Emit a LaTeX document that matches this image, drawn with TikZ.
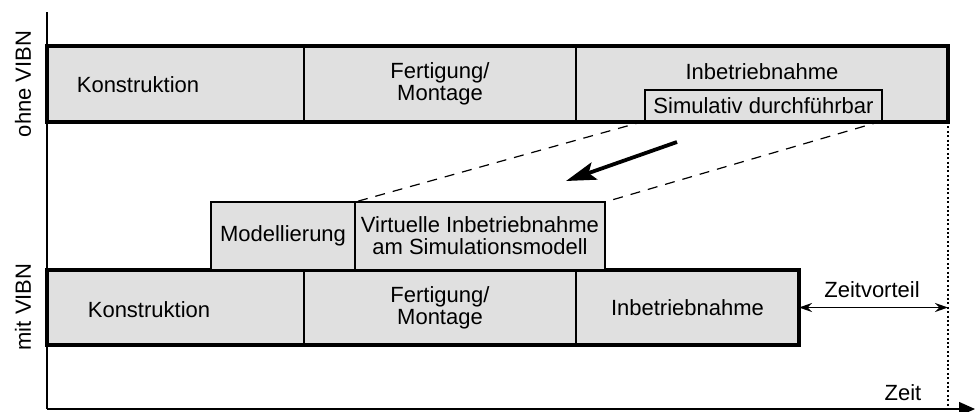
\documentclass[tikz,border=0pt]{standalone}
\usepackage{fontspec}
\setmainfont{Liberation Sans}
\usetikzlibrary{arrows.meta, positioning}
\definecolor{barfill}{HTML}{E0E0E0}
\tikzset{
  cell/.style={draw=black, line width=0.6pt, fill=barfill, outer sep=0pt, inner sep=0pt,
    align=center, font=\fontsize{11}{11}\selectfont},
  txt/.style={inner sep=1pt, align=center, font=\fontsize{11}{11}\selectfont},
  bar/.style={draw=black, line width=1.6pt},
  axis/.style={draw=black, line width=0.7pt},
  dashedline/.style={line width=0.6pt, dash pattern=on 5pt off 4pt},
  dottedline/.style={line width=0.9pt, dash pattern=on 1pt off 1.2pt},
  bigarrow/.style={-{Stealth[length=15pt,width=9pt,inset=3pt]}, line width=1.9pt},
  dimarrow/.style={{Stealth[length=6.5pt,width=4.5pt]}-{Stealth[length=6.5pt,width=4.5pt]}, line width=0.75pt},
}
\begin{document}
\begin{tikzpicture}[x=0.5pt,y=-0.5pt]
  \useasboundingbox (0,0) rectangle (975,412);
  % Achsen
  \coordinate (ursprung) at (47,409);
  \coordinate (yende) at (47,12);
  \coordinate (xende) at (975,409);
  \draw[axis] (ursprung) -- (yende);
  \draw[axis, -{Triangle[length=8pt,width=7pt]}] (ursprung) -- (xende);
  \node[txt, rotate=90] (ohne) at (23,84) {ohne VIBN};
  \node[txt, rotate=90] (mit) at (23,307) {mit VIBN};
  \node[txt] (zeit) at (903,393) {Zeit};

  % ohne VIBN
  \node[cell, minimum width=128.5pt, minimum height=38pt, anchor=north west] (oKon) at (47,46) {};
  \node[cell, minimum width=136pt, minimum height=38pt, right=0pt of oKon] (oFer) {Fertigung/\\Montage};
  \node[cell, minimum width=186pt, minimum height=38pt, right=0pt of oFer] (oInb) {};
  \draw[bar] (oKon.north west) rectangle (oInb.south east);
  \node[txt] (oKonT) at (138,85) {Konstruktion};
  \node[txt] (oInbT) at (762,72) {Inbetriebnahme};
  \node[cell, minimum width=118.5pt, minimum height=15.5pt, anchor=south west] (sim) at (645,121) {Simulativ durchführbar};

  % mit VIBN
  \node[cell, minimum width=128.5pt, minimum height=37.5pt, anchor=north west] (mKon) at (47,270) {};
  \node[cell, minimum width=136pt, minimum height=37.5pt, right=0pt of mKon] (mFer) {Fertigung/\\Montage};
  \node[cell, minimum width=111.5pt, minimum height=37.5pt, right=0pt of mFer] (mInb) {Inbetriebnahme};
  \draw[bar] (mKon.north west) rectangle (mInb.south east);
  \node[txt] (mKonT) at (149,310) {Konstruktion};
  \node[cell, minimum width=72pt, minimum height=34pt, anchor=south west] (mod) at (211,270) {Modellierung};
  \node[cell, minimum width=125pt, minimum height=34pt, right=0pt of mod] (virt) {Virtuelle Inbetriebnahme\\am Simulationsmodell};

  % Vorziehen der Inbetriebnahme
  \draw[dashedline] (sim.south west) -- (virt.north west);
  \draw[dashedline] (sim.south east) -- (virt.north east);
  \coordinate (pfeilA) at (677,142);
  \coordinate (pfeilB) at (566,181);
  \draw[bigarrow] (pfeilA) -- (pfeilB);

  % Zeitvorteil
  \coordinate (endeAchse) at (oInb.south east |- ursprung);
  \draw[dottedline] (oInb.south east) -- (endeAchse);
  \coordinate (vorteil) at (oInb.east |- mInb.east);
  \draw[dimarrow] (mInb.east) -- (vorteil);
  \node[txt] (vorteilT) at (872,290) {Zeitvorteil};
\end{tikzpicture}
\end{document}
